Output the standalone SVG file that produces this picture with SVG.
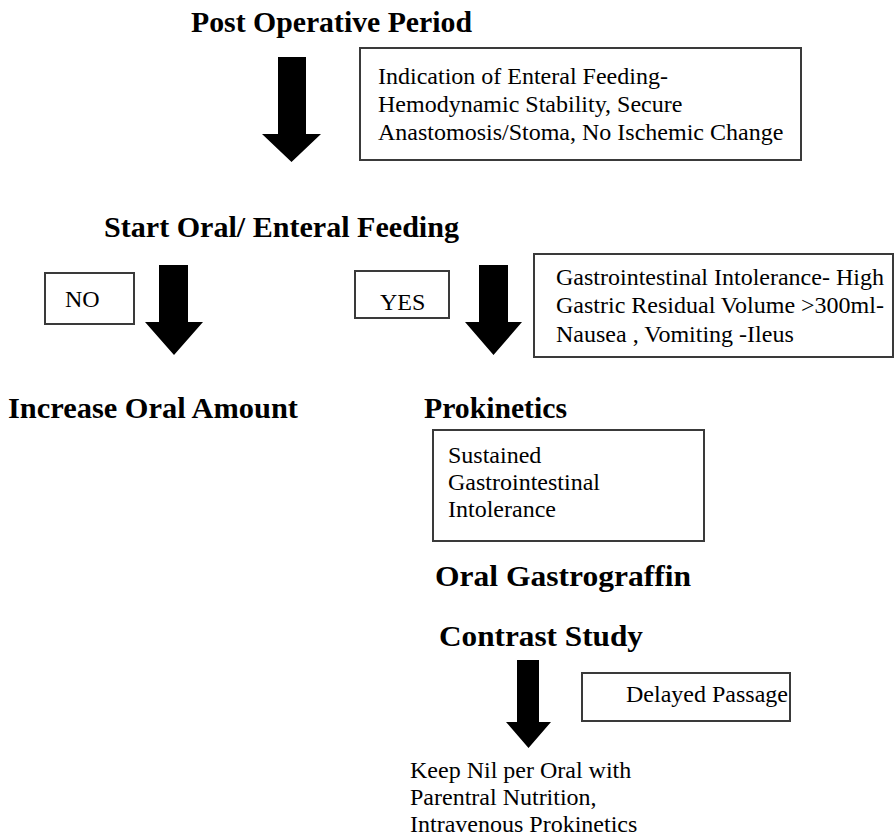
<svg xmlns="http://www.w3.org/2000/svg" width="895" height="838" viewBox="0 0 895 838">
<style>
  text { font-family: 'Liberation Serif', 'DejaVu Serif', serif; fill: #000; }
  .h { font-weight: bold; font-size: 30px; }
  .t { font-size: 24px; }
  .box { fill: #fff; stroke: #3a3a3a; stroke-width: 2; }
  .arrow { fill: #000; }
</style>
<rect width="895" height="838" fill="#fff"/>

<g id="connectors">
  <polygon class="arrow" points="278,57 306,57 306,134 321,134 291.5,162 262,134 278,134"/>
  <polygon class="arrow" points="159,265 188,265 188,322 203,322 174,355 145,322 159,322"/>
  <polygon class="arrow" points="479,265 508,265 508,322 522,322 493.5,355 465,322 479,322"/>
  <polygon class="arrow" points="517,660 539,660 539,722 551,722 528.5,748 506,722 517,722"/>
</g>

<g id="post-operative">
  <text class="h" x="191" y="32" textLength="281" lengthAdjust="spacingAndGlyphs">Post Operative Period</text>
</g>

<g id="indication">
  <rect class="box" x="360" y="48" width="441" height="112"/>
  <text class="t" x="378" y="84">Indication of Enteral Feeding-</text>
  <text class="t" x="378" y="112">Hemodynamic Stability, Secure</text>
  <text class="t" x="378" y="140">Anastomosis/Stoma, No Ischemic Change</text>
</g>

<g id="start-feeding">
  <text class="h" x="104" y="237" textLength="355" lengthAdjust="spacingAndGlyphs">Start Oral/ Enteral Feeding</text>
</g>

<g id="no">
  <rect class="box" x="45" y="273" width="89" height="51"/>
  <text class="t" x="65" y="307">NO</text>
</g>

<g id="yes">
  <rect class="box" x="355" y="271" width="94" height="47"/>
  <text class="t" x="380" y="310">YES</text>
</g>

<g id="gi-intolerance">
  <rect class="box" x="534" y="254" width="359" height="103"/>
  <text class="t" x="556" y="285">Gastrointestinal Intolerance-  High</text>
  <text class="t" x="556" y="313">Gastric Residual Volume &gt;300ml-</text>
  <text class="t" x="556" y="342">Nausea , Vomiting -Ileus</text>
</g>

<g id="increase-oral">
  <text class="h" x="8" y="418" textLength="290" lengthAdjust="spacingAndGlyphs">Increase Oral Amount</text>
</g>

<g id="prokinetics">
  <text class="h" x="424" y="418" textLength="143" lengthAdjust="spacingAndGlyphs">Prokinetics</text>
</g>

<g id="sustained">
  <rect class="box" x="433" y="430" width="271" height="111"/>
  <text class="t" x="448" y="463">Sustained</text>
  <text class="t" x="448" y="490">Gastrointestinal</text>
  <text class="t" x="448" y="517">Intolerance</text>
</g>

<g id="gastrograffin">
  <text class="h" x="435" y="586" textLength="256" lengthAdjust="spacingAndGlyphs">Oral Gastrograffin</text>
</g>

<g id="contrast-study">
  <text class="h" x="439" y="646" textLength="204" lengthAdjust="spacingAndGlyphs">Contrast Study</text>
</g>

<g id="delayed">
  <rect class="box" x="582" y="673" width="208" height="48"/>
  <text class="t" x="626" y="702">Delayed Passage</text>
</g>

<g id="nil-per-oral">
  <text class="t" x="410" y="778">Keep Nil per Oral with</text>
  <text class="t" x="410" y="805">Parentral Nutrition,</text>
  <text class="t" x="410" y="832">Intravenous Prokinetics</text>
</g>
</svg>
